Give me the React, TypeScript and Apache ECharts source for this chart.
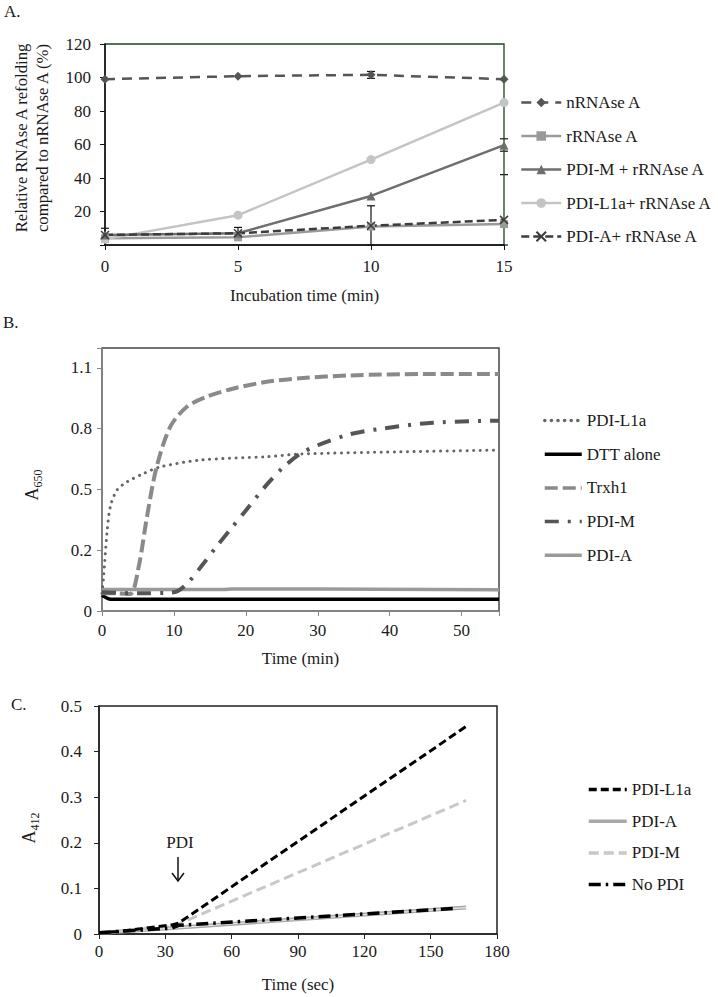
import React, { useEffect, useRef } from 'react';
import * as echarts from 'echarts';

// ---------- Panel A data ----------
const aTimes = [0, 5, 10, 15];
const aNRNAse = [99, 100.8, 101.6, 99];
const aRRNAse = [4, 4.6, 11, 12.5];
const aPdiM = [6, 7, 29.3, 59.6];
const aPdiL1a = [3.5, 17.8, 51, 85];
const aPdiA = [6, 7, 11.5, 15];
// [time, low, high]
const aErrorBars = [
  [0, 2, 10],
  [5, 3.5, 10.5],
  [10, 99.5, 103.6],
  [10, 0, 23.4],
  [15, 56, 63.4],
  [15, 0, 42],
];
const aXMax = 15;

// ---------- Panel B data ([min, A650]) ----------
const bYLabels = ['0', '0.2', '0.5', '0.8', '1.1'];
const bYStep = 0.275;
const bPdiL1a = [[0, 0.08], [0.22, 0.154], [0.69, 0.351], [1.15, 0.471], [2.08, 0.547], [3.47, 0.584], [5.78, 0.622], [8.1, 0.652], [13.7, 0.683], [22.9, 0.698], [27.5, 0.71], [41.4, 0.72], [55.2, 0.728]];
const bDtt = [[0, 0.071], [0.6, 0.06], [1.2, 0.053], [10, 0.053], [30, 0.053], [55.2, 0.053]];
const bTrxh1 = [[0, 0.08], [2, 0.08], [3.9, 0.077], [5.1, 0.2], [6.25, 0.426], [7.6, 0.652], [9.5, 0.834], [11.8, 0.924], [14.6, 0.97], [18.3, 1.007], [22.9, 1.037], [27.5, 1.053], [34.5, 1.066], [45, 1.072], [55.2, 1.072]];
const bPdiM = [[0, 0.085], [5, 0.08], [9, 0.082], [10.5, 0.09], [12, 0.13], [14, 0.21], [16, 0.295], [18, 0.375], [20, 0.455], [23, 0.575], [25.2, 0.65], [27.5, 0.71], [30, 0.75], [34.5, 0.8], [39.1, 0.826], [46, 0.852], [55.2, 0.861]];
const bPdiA = [[0, 0.097], [10, 0.097], [17, 0.097], [18, 0.1], [30, 0.099], [55.2, 0.096]];

// ---------- Panel C data ([sec, A412]) ----------
const cPdiL1a = [[0, 0.002], [10, 0.006], [20, 0.012], [33, 0.02], [36, 0.024], [166, 0.455]];
const cPdiA = [[0, 0.002], [33, 0.013], [166, 0.058]];
const cPdiM = [[0, 0.002], [33, 0.018], [36, 0.022], [166, 0.293]];
const cNoPdi = [[0, 0.003], [30, 0.012], [33, 0.013], [36, 0.019], [160, 0.056]];

const FONT = "'Liberation Serif', 'Times New Roman', serif";
const TXT = '#1a1a1a';

const zip = (xs: number[], ys: number[]) => xs.map((x, i) => [x, ys[i]]);

export default function App() {
  const ref = useRef<HTMLDivElement>(null);
  useEffect(() => {
    if (!ref.current) return;
    const chart = echarts.init(ref.current, undefined, { renderer: 'svg' });
    const label = (extra: any = {}) => ({ fontFamily: FONT, fontSize: 17, color: TXT, ...extra });
    const lineCommon = { type: 'line', animation: false };
    const xMark = 'path://M0,0L10,10M0,10L10,0';

    const option: any = {
      animation: false,
      backgroundColor: '#fff',
      grid: [
        { left: 105, top: 44, width: 399, height: 201, show: true, borderColor: '#1e4620', borderWidth: 1.3, backgroundColor: 'transparent' },
        { left: 102, top: 348, width: 397, height: 263, show: true, borderColor: '#444', borderWidth: 1.5, backgroundColor: 'transparent' },
        { left: 99, top: 706, width: 398, height: 228, show: true, borderColor: '#222', borderWidth: 1.5, backgroundColor: 'transparent' },
      ],
      xAxis: [
        {
          gridIndex: 0, type: 'value', min: 0, max: aXMax, interval: 5,
          name: 'Incubation time (min)', nameLocation: 'middle', nameGap: 42, nameTextStyle: label(),
          axisLine: { lineStyle: { color: '#111', width: 1.5 } },
          axisTick: { lineStyle: { color: '#111' }, length: 5 },
          axisLabel: label({ margin: 13 }), splitLine: { show: false },
        },
        {
          gridIndex: 1, type: 'value', min: 0, max: 55.2, interval: 10,
          name: 'Time (min)', nameLocation: 'middle', nameGap: 39, nameTextStyle: label(),
          axisLine: { lineStyle: { color: '#888', width: 1.5 } },
          axisTick: { lineStyle: { color: '#888' }, length: 5 },
          axisLabel: label({ margin: 11, formatter: (v: number) => (Math.abs(v % 10) < 1e-6 ? String(v) : '') }),
          splitLine: { show: false },
        },
        {
          gridIndex: 2, type: 'value', min: 0, max: 180, interval: 30,
          name: 'Time (sec)', nameLocation: 'middle', nameGap: 42, nameTextStyle: label(),
          axisLine: { lineStyle: { color: '#222', width: 1.5 } },
          axisTick: { lineStyle: { color: '#222' }, length: 5 },
          axisLabel: label({ margin: 9 }), splitLine: { show: false },
        },
      ],
      yAxis: [
        {
          gridIndex: 0, type: 'value', min: 0, max: 120, interval: 20,
          axisLine: { show: true, lineStyle: { color: '#111', width: 1.5 } },
          axisTick: { show: true, lineStyle: { color: '#111' }, length: 5 },
          axisLabel: label({ margin: 14, formatter: (v: number) => (v === 0 ? '' : String(v)) }),
          splitLine: { show: false },
        },
        {
          gridIndex: 1, type: 'value', min: 0, max: 1.19, interval: bYStep,
          axisLine: { show: true, lineStyle: { color: '#888', width: 1.5 } },
          axisTick: { show: true, lineStyle: { color: '#888' }, length: 5 },
          axisLabel: label({
            margin: 10,
            formatter: (v: number) => {
              const i = Math.round(v / bYStep);
              return Math.abs(v - i * bYStep) < 1e-6 && i < bYLabels.length ? bYLabels[i] : '';
            },
          }),
          splitLine: { show: false },
        },
        {
          gridIndex: 2, type: 'value', min: 0, max: 0.5, interval: 0.1,
          axisLine: { show: true, lineStyle: { color: '#222', width: 1.5 } },
          axisTick: { show: true, lineStyle: { color: '#222' }, length: 5 },
          axisLabel: label({ margin: 17, formatter: (v: number) => (v === 0 ? '0' : v.toFixed(1)) }),
          splitLine: { show: false },
        },
      ],
      legend: [
        {
          left: 520, top: 94, padding: 0, orient: 'vertical', itemWidth: 40, itemHeight: 12, itemGap: 16.5,
          textStyle: label(), lineStyle: { width: 2.5 }, formatter: (n: string) => n.replace(/^A:/, ''),
          data: ['A:nRNAse A', 'A:rRNAse A', 'A:PDI-M + rRNAse A', 'A:PDI-L1a+ rRNAse A', 'A:PDI-A+ rRNAse A'],
        },
        {
          left: 543, top: 412, padding: 0, orient: 'vertical', itemWidth: 37, itemHeight: 14, itemGap: 16.7,
          textStyle: label(), lineStyle: { width: 3.5 }, itemStyle: { opacity: 0 }, formatter: (n: string) => n.replace(/^B:/, ''),
          data: ['B:PDI-L1a', 'B:DTT alone', 'B:Trxh1', 'B:PDI-M', 'B:PDI-A'],
        },
        {
          left: 587, top: 781, padding: 0, orient: 'vertical', itemWidth: 38, itemHeight: 14, itemGap: 14.7,
          textStyle: label(), lineStyle: { width: 3.5 }, itemStyle: { opacity: 0 }, formatter: (n: string) => n.replace(/^C:/, ''),
          data: ['C:PDI-L1a', 'C:PDI-A', 'C:PDI-M', 'C:No PDI'],
        },
      ],
      series: [
        // ----- Panel A -----
        {
          type: 'custom', xAxisIndex: 0, yAxisIndex: 0, name: 'errA', z: -1,
          data: aErrorBars,
          renderItem: (params: any, api: any) => {
            const lo = api.coord([api.value(0), api.value(1)]);
            const hi = api.coord([api.value(0), api.value(2)]);
            const st = { stroke: '#111', lineWidth: 1.2 };
            const children: any[] = [
              { type: 'line', shape: { x1: hi[0] - 4, y1: hi[1], x2: hi[0] + 4, y2: hi[1] }, style: st },
              { type: 'line', shape: { x1: lo[0] - 4, y1: lo[1], x2: lo[0] + 4, y2: lo[1] }, style: st },
            ];
            // the stem at the right edge is hidden behind the plot frame
            if (api.value(0) !== aXMax) {
              children.push({ type: 'line', shape: { x1: lo[0], y1: lo[1], x2: hi[0], y2: hi[1] }, style: st });
            }
            return { type: 'group', children };
          },
        },
        {
          ...lineCommon, name: 'A:rRNAse A', xAxisIndex: 0, yAxisIndex: 0, data: zip(aTimes, aRRNAse),
          symbol: 'rect', symbolSize: 8, lineStyle: { color: '#9a9a9a', width: 2.5 }, itemStyle: { color: '#9a9a9a' },
        },
        {
          ...lineCommon, name: 'A:PDI-L1a+ rRNAse A', xAxisIndex: 0, yAxisIndex: 0, data: zip(aTimes, aPdiL1a),
          symbol: 'circle', symbolSize: 9, lineStyle: { color: '#c4c4c4', width: 2.5 }, itemStyle: { color: '#c4c4c4' },
        },
        {
          ...lineCommon, name: 'A:PDI-M + rRNAse A', xAxisIndex: 0, yAxisIndex: 0, data: zip(aTimes, aPdiM),
          symbol: 'triangle', symbolSize: 9, lineStyle: { color: '#6e6e6e', width: 2.5 }, itemStyle: { color: '#6e6e6e' },
        },
        {
          ...lineCommon, name: 'A:PDI-A+ rRNAse A', xAxisIndex: 0, yAxisIndex: 0, data: zip(aTimes, aPdiA),
          symbol: xMark, symbolSize: 8, lineStyle: { color: '#3c3c3c', width: 2.5, type: [8, 4] },
          itemStyle: { color: '#3c3c3c', borderColor: '#3c3c3c', borderWidth: 1.5 },
        },
        {
          ...lineCommon, name: 'A:nRNAse A', xAxisIndex: 0, yAxisIndex: 0, data: zip(aTimes, aNRNAse),
          symbol: 'diamond', symbolSize: 9, lineStyle: { color: '#555', width: 2.5, type: [10, 7] }, itemStyle: { color: '#555' },
        },
        // ----- Panel B -----
        {
          ...lineCommon, name: 'B:PDI-A', xAxisIndex: 1, yAxisIndex: 1, data: bPdiA, symbol: 'none',
          lineStyle: { color: '#9a9a9a', width: 3.5 }, itemStyle: { color: '#9a9a9a' },
        },
        {
          ...lineCommon, name: 'B:DTT alone', xAxisIndex: 1, yAxisIndex: 1, data: bDtt, symbol: 'none', smooth: 0.3,
          lineStyle: { color: '#000', width: 3.5 }, itemStyle: { color: '#000' },
        },
        {
          ...lineCommon, name: 'B:PDI-L1a', xAxisIndex: 1, yAxisIndex: 1, data: bPdiL1a, symbol: 'none', smooth: 0.3,
          lineStyle: { color: '#666', width: 3, type: [0.1, 6.5], cap: 'round' }, itemStyle: { color: '#666' },
        },
        {
          ...lineCommon, name: 'B:Trxh1', xAxisIndex: 1, yAxisIndex: 1, data: bTrxh1, symbol: 'none', smooth: 0.3,
          lineStyle: { color: '#8a8a8a', width: 4, type: [13, 5] }, itemStyle: { color: '#8a8a8a' },
        },
        {
          ...lineCommon, name: 'B:PDI-M', xAxisIndex: 1, yAxisIndex: 1, data: bPdiM, symbol: 'none', smooth: 0.3,
          lineStyle: { color: '#555', width: 4, type: [14, 9, 3, 9] }, itemStyle: { color: '#555' },
        },
        // ----- Panel C -----
        {
          ...lineCommon, name: 'C:PDI-A', xAxisIndex: 2, yAxisIndex: 2, data: cPdiA, symbol: 'none',
          lineStyle: { color: '#a8a8a8', width: 4 }, itemStyle: { color: '#a8a8a8' },
        },
        {
          ...lineCommon, name: 'C:PDI-A-inner', xAxisIndex: 2, yAxisIndex: 2, data: cPdiA, symbol: 'none',
          lineStyle: { color: '#e4e4e4', width: 1.3 }, itemStyle: { color: '#e4e4e4' },
        },
        {
          ...lineCommon, name: 'C:PDI-M', xAxisIndex: 2, yAxisIndex: 2, data: cPdiM, symbol: 'none',
          lineStyle: { color: '#c8c8c8', width: 3, type: [10, 5] }, itemStyle: { color: '#c8c8c8' },
        },
        {
          ...lineCommon, name: 'C:No PDI', xAxisIndex: 2, yAxisIndex: 2, data: cNoPdi, symbol: 'none',
          lineStyle: { color: '#000', width: 3.5, type: [12, 5, 2.5, 5] }, itemStyle: { color: '#000' },
        },
        {
          ...lineCommon, name: 'C:PDI-L1a', xAxisIndex: 2, yAxisIndex: 2, data: cPdiL1a, symbol: 'none',
          lineStyle: { color: '#000', width: 3, type: [8, 4] }, itemStyle: { color: '#000' },
        },
      ],
      graphic: [
        { type: 'text', left: 4, top: 3, style: { text: 'A.', fontSize: 17, fontFamily: FONT, fill: TXT } },
        { type: 'text', left: 3, top: 314, style: { text: 'B.', fontSize: 17, fontFamily: FONT, fill: TXT } },
        { type: 'text', left: 11, top: 696, style: { text: 'C.', fontSize: 17, fontFamily: FONT, fill: TXT } },
        {
          type: 'text', x: 21, y: 138, rotation: Math.PI / 2,
          style: { text: 'Relative RNAse A refolding', fontSize: 16.7, fontFamily: FONT, fill: TXT, align: 'center', verticalAlign: 'middle' },
        },
        {
          type: 'text', x: 42, y: 138, rotation: Math.PI / 2,
          style: { text: 'compared to nRNAse A (%)', fontSize: 16.7, fontFamily: FONT, fill: TXT, align: 'center', verticalAlign: 'middle' },
        },
        {
          type: 'text', x: 32, y: 485, rotation: Math.PI / 2,
          style: {
            text: '{a|A}{s|650}', align: 'center', verticalAlign: 'middle', fill: TXT,
            rich: {
              a: { fontSize: 18, fontFamily: FONT, fill: TXT, lineHeight: 24, verticalAlign: 'middle' },
              s: { fontSize: 12, fontFamily: FONT, fill: TXT, lineHeight: 24, verticalAlign: 'bottom' },
            },
          },
        },
        {
          type: 'text', x: 29, y: 828, rotation: Math.PI / 2,
          style: {
            text: '{a|A}{s|412}', align: 'center', verticalAlign: 'middle', fill: TXT,
            rich: {
              a: { fontSize: 18, fontFamily: FONT, fill: TXT, lineHeight: 24, verticalAlign: 'middle' },
              s: { fontSize: 12, fontFamily: FONT, fill: TXT, lineHeight: 24, verticalAlign: 'bottom' },
            },
          },
        },
        {
          type: 'text', x: 180, y: 842,
          style: { text: 'PDI', fontSize: 17, fontFamily: FONT, fill: TXT, align: 'center', verticalAlign: 'middle' },
        },
        { type: 'line', shape: { x1: 178, y1: 857, x2: 178, y2: 881 }, style: { stroke: '#111', lineWidth: 1.5 } },
        { type: 'polyline', shape: { points: [[172, 873], [178, 881], [184, 873]] }, style: { stroke: '#111', lineWidth: 1.5, fill: 'none' } },
      ],
    };
    chart.setOption(option);
    return () => chart.dispose();
  }, []);
  return <div ref={ref} style={{ position: 'absolute', left: 0, top: 0, width: 718, height: 997, background: '#fff' }} />;
}
